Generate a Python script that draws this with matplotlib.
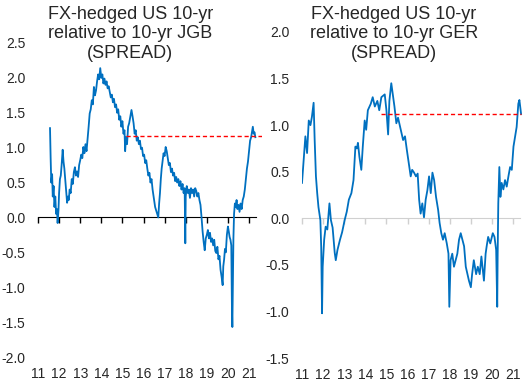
import matplotlib
matplotlib.use("Agg")
import matplotlib.pyplot as plt

plt.rcParams['font.family'] = ['Liberation Sans', 'DejaVu Sans']
plt.rcParams['axes.unicode_minus'] = False

year_ticks = list(range(11, 22))
year_labels = [str(y) for y in year_ticks]

# FX-hedged US 10-yr minus 10-yr JGB (year as 2-digit decimal, spread in %)
jgb_years = [
    11.57, 11.60, 11.63, 11.67, 11.70, 11.74, 11.78, 11.82, 11.86, 11.90, 11.93, 11.97,
    12.00, 12.04, 12.08, 12.12, 12.17, 12.21, 12.25, 12.29, 12.33, 12.38, 12.42, 12.46,
    12.50, 12.55, 12.60, 12.65, 12.70, 12.75, 12.80, 12.85, 12.90, 12.95,
    13.00, 13.05, 13.10, 13.15, 13.20, 13.25, 13.30, 13.35, 13.40, 13.45, 13.50, 13.55,
    13.60, 13.65, 13.70, 13.75, 13.80, 13.85, 13.90, 13.95,
    14.00, 14.05, 14.10, 14.15, 14.20, 14.25, 14.30, 14.35, 14.40, 14.45, 14.50, 14.55,
    14.60, 14.65, 14.70, 14.75, 14.80, 14.85, 14.90, 14.95,
    15.00, 15.05, 15.10, 15.13, 15.17, 15.22, 15.27, 15.32, 15.38, 15.43, 15.48, 15.53,
    15.58, 15.63, 15.68, 15.73, 15.78, 15.83, 15.88, 15.93, 15.98,
    16.03, 16.08, 16.13, 16.18, 16.23, 16.28, 16.33, 16.38, 16.43, 16.50, 16.55, 16.60,
    16.65, 16.70, 16.74, 16.78, 16.82, 16.86, 16.90, 16.95,
    17.00, 17.05, 17.10, 17.15, 17.20, 17.25, 17.30, 17.35, 17.40, 17.45, 17.50, 17.55,
    17.60, 17.65, 17.70, 17.75, 17.80, 17.85, 17.90, 17.95, 17.98,
    18.00, 18.05, 18.10, 18.15, 18.20, 18.25, 18.30, 18.35, 18.40, 18.45, 18.50, 18.55,
    18.60, 18.65, 18.70, 18.75, 18.80, 18.85, 18.90, 18.95,
    19.00, 19.05, 19.10, 19.15, 19.20, 19.25, 19.30, 19.35, 19.40, 19.45, 19.50, 19.55,
    19.60, 19.65, 19.70, 19.75, 19.78, 19.82, 19.86, 19.90, 19.95,
    20.00, 20.04, 20.08, 20.12, 20.16, 20.19, 20.21, 20.23, 20.26, 20.29, 20.33, 20.37,
    20.41, 20.45, 20.50, 20.55, 20.60, 20.65, 20.70, 20.75, 20.80, 20.85, 20.90, 20.95,
    21.00, 21.05, 21.10, 21.15, 21.18, 21.22, 21.26, 21.30,
]
jgb_spread = [
    1.28, 0.85, 0.50, 0.62, 0.30, 0.45, 0.15, 0.30, 0.05, 0.12, -0.08, 0.10,
    0.35, 0.55, 0.60, 0.75, 0.97, 0.80, 0.70, 0.55, 0.40, 0.21, 0.30, 0.25,
    0.40, 0.35, 0.55, 0.48, 0.65, 0.72, 0.60, 0.66, 0.58, 0.75,
    0.82, 0.90, 0.85, 1.01, 0.92, 1.05, 0.95, 1.12, 1.30, 1.49, 1.55, 1.68,
    1.62, 1.87, 1.75, 1.82, 1.95, 2.05, 1.98, 2.14,
    2.00, 2.05, 1.92, 1.99, 1.90, 1.95, 1.85, 1.88, 1.80, 1.72, 1.76, 1.65,
    1.70, 1.58, 1.62, 1.50, 1.55, 1.40, 1.45, 1.30,
    1.38, 1.20, 1.25, 0.95, 1.15, 1.05, 1.30, 1.35, 1.45, 1.54, 1.45, 1.35,
    1.20, 1.25, 1.10, 1.15, 1.05, 1.10, 0.98, 1.00, 0.88,
    0.90, 0.78, 0.82, 0.70, 0.60, 0.64, 0.50, 0.55, 0.40, 0.25, 0.15, 0.10,
    0.05, 0.00, 0.20, 0.35, 0.55, 0.70, 0.80, 0.92,
    0.88, 1.01, 0.95, 0.85, 0.75, 0.78, 0.65, 0.70, 0.60, 0.64, 0.52, 0.58,
    0.50, 0.55, 0.45, 0.52, 0.40, 0.48, 0.35, 0.42, -0.37,
    0.30, 0.45, 0.35, 0.40, 0.28, 0.42, 0.35, 0.40, 0.30, 0.42, 0.38, 0.30,
    0.35, 0.25, 0.18, 0.00, -0.20, -0.35, -0.47, -0.30,
    -0.25, -0.18, -0.30, -0.22, -0.35, -0.30, -0.40, -0.32, -0.48, -0.51, -0.42, -0.60,
    -0.55, -0.75, -0.85, -0.97, -0.70, -0.60, -0.45, -0.50, -0.25,
    -0.13, -0.20, -0.28, -0.32, -0.40, -1.30, -1.57, -1.04, -0.30, 0.05, 0.20, 0.15,
    0.25, 0.12, 0.18, 0.08, 0.20, 0.12, 0.25, 0.30, 0.40, 0.55, 0.70, 0.80,
    0.95, 1.10, 1.15, 1.25, 1.30, 1.20, 1.22, 1.15,
]

# FX-hedged US 10-yr minus 10-yr Bund
ger_years = [
    11.00, 11.08, 11.16, 11.24, 11.32, 11.40, 11.47, 11.55, 11.60, 11.66, 11.72, 11.78,
    11.87, 11.91, 11.95, 11.98, 12.05, 12.12, 12.20, 12.30, 12.37, 12.45, 12.55, 12.60,
    12.68, 12.80, 12.90, 13.02, 13.12, 13.22, 13.34, 13.44, 13.53, 13.60, 13.65, 13.72,
    13.81, 13.88, 13.97, 14.04, 14.12, 14.26, 14.35, 14.45, 14.57, 14.66, 14.76, 14.92,
    15.00, 15.08, 15.14, 15.23, 15.30, 15.38, 15.47, 15.55, 15.65, 15.79, 15.88, 15.97,
    16.06, 16.15, 16.22, 16.31, 16.40, 16.48, 16.55, 16.62, 16.70, 16.78, 16.86, 16.94,
    17.02, 17.10, 17.18, 17.26, 17.35, 17.45, 17.52, 17.60, 17.68, 17.76, 17.86, 17.94,
    17.98, 18.04, 18.12, 18.20, 18.28, 18.36, 18.44, 18.52, 18.60, 18.68, 18.76, 18.84,
    18.91, 19.00, 19.06, 19.14, 19.25, 19.33, 19.42, 19.50, 19.62, 19.70, 19.75, 19.82,
    19.92, 20.04, 20.12, 20.20, 20.25, 20.27, 20.30, 20.35, 20.40, 20.46, 20.54, 20.62,
    20.70, 20.78, 20.86, 20.94, 21.02, 21.10, 21.17, 21.25, 21.30, 21.35, 21.38,
]
ger_spread = [
    0.38, 0.63, 0.88, 0.70, 1.05, 1.00, 1.09, 1.24, 0.84, 0.45, 0.27, 0.12,
    -0.02, -0.31, -1.02, -0.52, -0.23, -0.09, -0.12, 0.16, -0.02, -0.10, -0.37, -0.45,
    -0.34, -0.23, -0.15, -0.02, 0.07, 0.20, 0.27, 0.41, 0.77, 0.75, 0.81, 0.66,
    0.52, 0.77, 1.05, 0.95, 1.16, 1.23, 1.30, 1.20, 1.26, 1.16, 1.30, 1.33,
    1.16, 0.90, 1.26, 1.45, 1.33, 1.20, 1.02, 1.08, 0.98, 0.84, 0.88, 0.73,
    0.59, 0.45, 0.52, 0.49, 0.45, 0.48, 0.20, 0.05, 0.16, 0.01, 0.20, 0.30,
    0.45, 0.27, 0.49, 0.41, 0.23, 0.09, -0.05, -0.16, -0.23, -0.16, -0.27, -0.38,
    -0.95, -0.45, -0.38, -0.52, -0.45, -0.38, -0.23, -0.16, -0.23, -0.30, -0.52, -0.60,
    -0.67, -0.74, -0.60, -0.45, -0.60, -0.52, -0.60, -0.41, -0.67, -0.38, -0.30, -0.20,
    -0.27, -0.16, -0.20, -0.34, -0.95, -0.40, 0.16, 0.55, 0.23, 0.38, 0.31, 0.41,
    0.34, 0.45, 0.55, 0.52, 0.77, 0.88, 0.98, 1.23, 1.27, 1.18, 1.12,
]

jgb_ref = ([15.17, 21.6], [1.17, 1.17])
ger_ref = ([14.74, 21.38], [1.12, 1.12])

blue = '#0070C0'
text_col = '#262626'

fig = plt.figure(figsize=(5.29, 3.85), dpi=100)
ax1 = fig.add_axes([0.0718, 0.0636, 0.4229, 0.8338])
ax2 = fig.add_axes([0.5709, 0.058, 0.4229, 0.871])

panels = [
    (ax1, jgb_years, jgb_spread, jgb_ref, (-2.05, 2.55), [-2.0, -1.5, -1.0, -0.5, 0.0, 0.5, 1.0, 1.5, 2.0, 2.5],
     'black', 'FX-hedged US 10-yr\nrelative to 10-yr JGB\n(SPREAD)', 0.246, 5),
    (ax2, ger_years, ger_spread, ger_ref, (-1.55, 2.05), [-1.5, -1.0, -0.5, 0.0, 0.5, 1.0, 1.5, 2.0],
     '#d0d0d0', 'FX-hedged US 10-yr\nrelative to 10-yr GER\n(SPREAD)', 0.745, 3.5),
]

for ax, xs, ys, ref, ylim, yticks, zcol, title, tx, pad in panels:
    ax.plot(xs, ys, color=blue, lw=1.3, zorder=3)
    ax.plot(ref[0], ref[1], color='#FF0000', lw=1.0, ls=(0, (3, 2)), zorder=4)
    ax.set_xlim(11, 21.6)
    ax.set_ylim(*ylim)
    for s in ['top', 'right', 'left']:
        ax.spines[s].set_visible(False)
    ax.spines['bottom'].set_position(('data', 0))
    ax.spines['bottom'].set_bounds(11, 21.33)
    ax.spines['bottom'].set_color(zcol)
    ax.spines['bottom'].set_zorder(2)
    ax.set_xticks(year_ticks)
    ax.tick_params(axis='x', length=4, width=1, color=zcol, labelbottom=False)
    ax.set_yticks(yticks)
    ax.set_yticklabels(['%.1f' % v for v in yticks])
    ax.tick_params(axis='y', length=0, pad=9, labelsize=10, labelcolor=text_col)
    sec = ax.secondary_xaxis('bottom')
    sec.spines['bottom'].set_visible(False)
    sec.set_xticks(year_ticks)
    sec.set_xticklabels(year_labels)
    sec.tick_params(length=0, pad=pad, labelsize=10, labelcolor=text_col)
    fig.text(tx, 0.912, title, ha='center', va='center', fontsize=13,
             color=text_col, linespacing=1.2)

fig.savefig('out.png', dpi=100)
